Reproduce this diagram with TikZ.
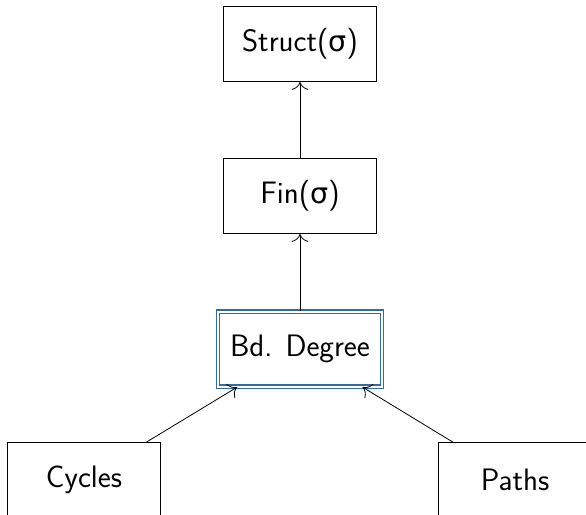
\documentclass[tikz,border=0pt]{standalone}
\usepackage{fontspec}
\newfontfamily\grk{DejaVu Sans}[Scale=0.92]
\usepackage{tikz}
\usetikzlibrary{arrows.meta}
\usetikzlibrary{positioning}
\definecolor{bdblue}{RGB}{52,108,160}
\tikzstyle{cls}=[rectangle,draw=black,fill=white,minimum width=76.5pt,minimum height=37.5pt,inner sep=6pt,font=\fontsize{15.5}{18}\sffamily]
\tikzstyle{main}=[cls,draw=bdblue,double=white,double distance=1pt,line width=0.6pt]
\tikzstyle{arrow}=[->,>={To[scale=1.6]}]
\newcommand \sig {{\grk σ}}

\begin{document}
\begin{tikzpicture}[x=0.5pt,y=-0.5pt]
    \useasboundingbox (0,0) rectangle (586,515);
    \begin{scope}
    \clip (0,0) rectangle (586,515);
    \node[cls] at (300,44) (struct) {Struct(\sig)};
    \node[cls] at (300,196) (fin) {Fin(\sig)};
    \node[main] at (300,349) (bddeg) {Bd. Degree};
    \node[cls] at (84,480) (cycles) {Cycles};
    \node[cls] at (515,480) (paths) {Paths};
    \draw[arrow] (fin) -- (struct);
    \draw[arrow] (bddeg) -- (fin);
    \draw[arrow] (cycles) -- (bddeg);
    \draw[arrow] (paths) -- (bddeg);
    \end{scope}
  \end{tikzpicture}
\end{document}
